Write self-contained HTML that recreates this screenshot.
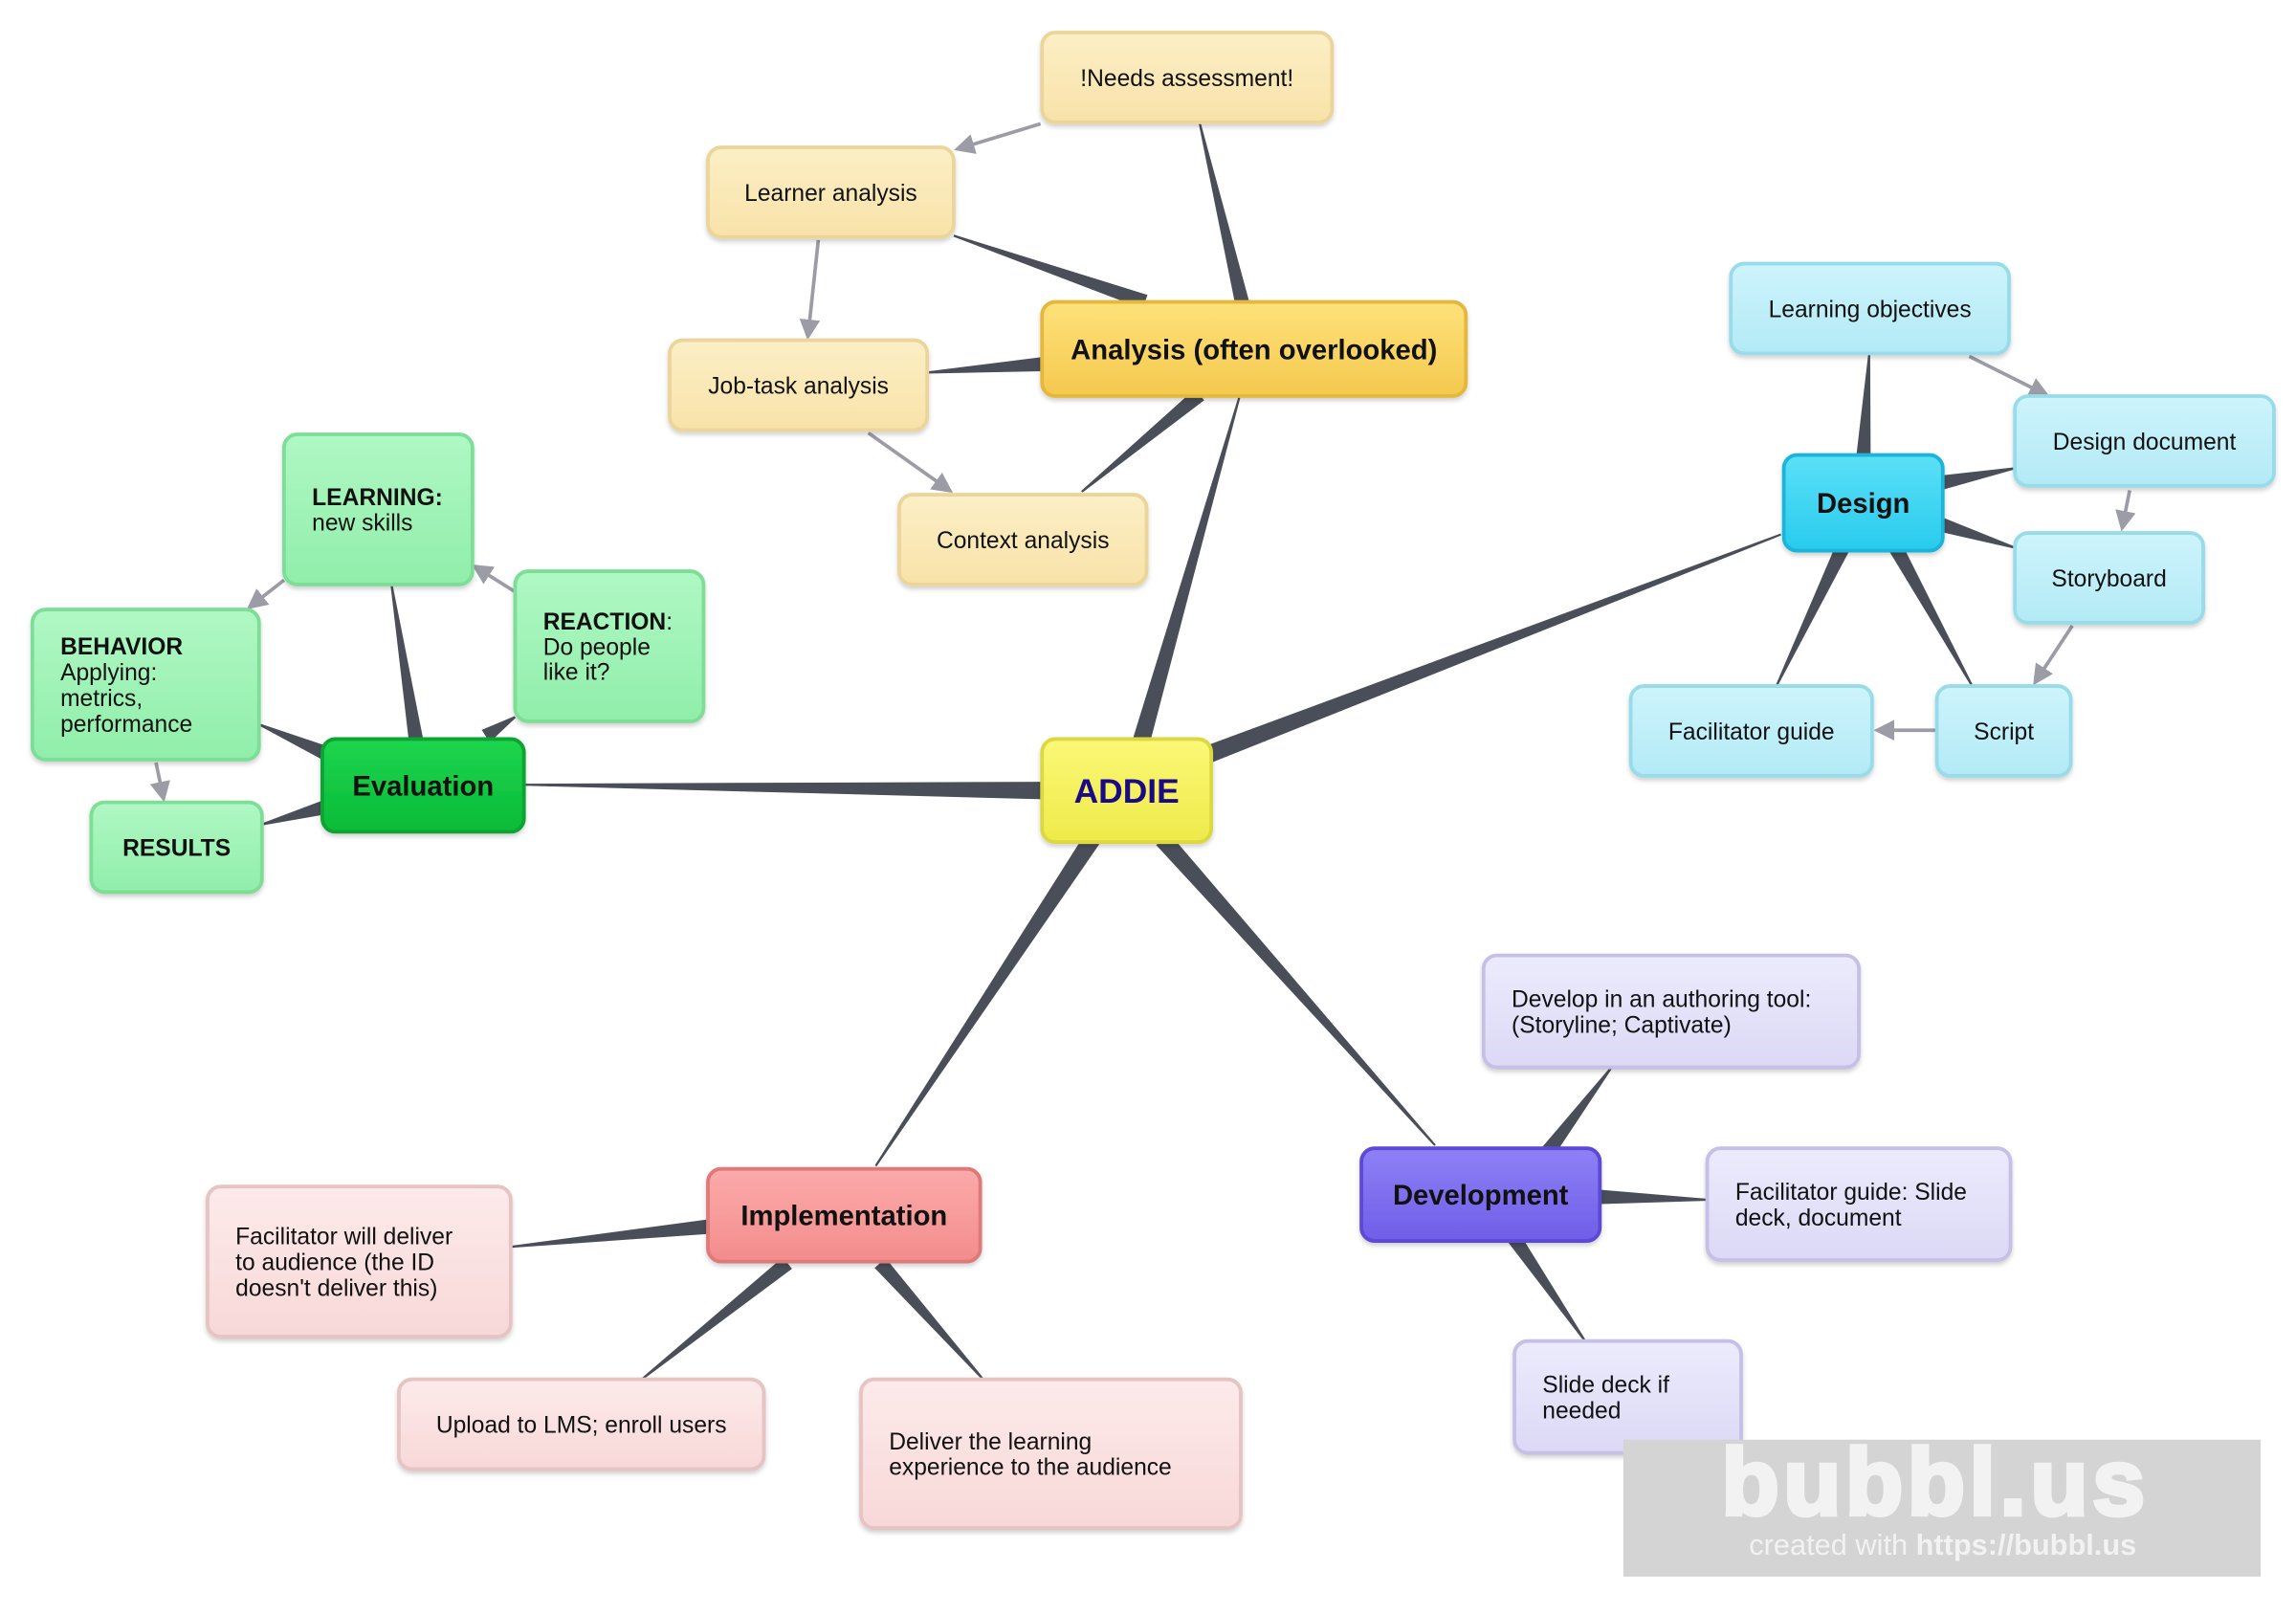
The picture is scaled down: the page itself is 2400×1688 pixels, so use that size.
<!DOCTYPE html>
<html><head><meta charset="utf-8"><style>
html,body{margin:0;padding:0;background:#fff;}
svg{display:block;}
text{font-family:"Liberation Sans",sans-serif;}
</style></head><body>
<svg id="s" width="2400" height="1688" viewBox="0 0 1560 1097" xmlns="http://www.w3.org/2000/svg">
<defs>
<filter id="sh" x="-10%" y="-10%" width="120%" height="130%"><feDropShadow dx="0" dy="2" stdDeviation="1.5" flood-color="#000" flood-opacity="0.18"/></filter>
<marker id="ah" markerWidth="14" markerHeight="14" refX="11" refY="7" orient="auto" markerUnits="userSpaceOnUse" viewBox="0 0 14 14"><path d="M0,0 L14,7 L0,14 z" fill="#9c9ca6"/></marker>
</defs>
<g id="conn" fill="#4a4e58"></g>
<g id="arr" stroke="#9c9ca6" stroke-width="2.4" fill="none"></g>
<g id="nodes"></g>
<rect x="1103" y="978" width="433" height="93" fill="#d4d4d4"/>
<text x="1315" y="1029" text-anchor="middle" font-size="64" font-weight="bold" fill="#f2f2f2" stroke="#f2f2f2" stroke-width="3" style="letter-spacing:3px">bubbl.us</text>
<text x="1320" y="1056" text-anchor="middle" font-size="20" fill="#f2f2f2">created with <tspan font-weight="bold">https://bubbl.us</tspan></text>
</svg>
<script>
var NS="http://www.w3.org/2000/svg";
function el(t,a,p){var e=document.createElementNS(NS,t);for(var k in a)e.setAttribute(k,a[k]);p.appendChild(e);return e;}
var conn=document.getElementById('conn'),arr=document.getElementById('arr'),nodes=document.getElementById('nodes');
function tp(x1,y1,x2,y2,w){var dx=x2-x1,dy=y2-y1,l=Math.hypot(dx,dy),nx=-dy/l,ny=dx/l,w2=0.7;
el('polygon',{points:[x1+nx*w,y1+ny*w,x2+nx*w2,y2+ny*w2,x2-nx*w2,y2-ny*w2,x1-nx*w,y1-ny*w].join(',')},conn);}
[[775,505,842,270,6],[822,512,1210,363,6],[712,537,356,533,6],[742,570,595,792,6],[790,570,975,778,6],
[845,210,815,83,5],[778,205,648,160,5],[712,247,630,253,5],[815,268,735,334,5],
[1266,312,1270,241,5],[1318,328,1369,318,5],[1318,356,1369,372,5],[1288,372,1340,466,5],[1252,372,1207,466,5],
[283,505,266,397,5],[330,500,350,487,5],[222,512,176,492,5],[222,548,178,560,5],
[484,833,347,847,5],[535,858,436,937,5],[598,858,668,937,5],
[1052,782,1095,725,5],[1085,813,1160,815,5],[1028,840,1077,911,5]].forEach(function(c){tp.apply(null,c);});
[[707,84,651,101],[556,163,549,228],[590,294,645,333],[1338,242,1390,268],[1447,333,1442,358],[1408,425,1383,463],[1316,496,1276,496],[350,402,323,385],[193,394,170,412],[106,518,111,542]].forEach(function(a){
el('line',{x1:a[0],y1:a[1],x2:a[2],y2:a[3],'marker-end':'url(#ah)'},arr);});
var C={y:['#fbf877','#eeea4a','#dcd842'],a:['#fde27a','#f5c84e','#e4b83e'],la:['#fcefc6','#f8e2a8','#ecd59a'],
d:['#5ce0f8','#28cbed','#1fb5da'],ld:['#cdf4fc','#b3eaf6','#98dcea'],e:['#1ed54e','#08bb38','#07a430'],le:['#b0f8c4','#90eeaa','#7ede98'],
i:['#fcaaaa','#f38c8c','#df7a7a'],li:['#fdeaea','#f8d8d8','#e6c4c4'],v:['#8e80f6','#6f5ee8','#5b4ad6'],lv:['#ecebfc','#dcd8f6','#c6c0e6']};
var gi=0;
function node(x,y,w,h,c,lines,opt){opt=opt||{};var col=C[c];var id='g'+(gi++);
var defs=document.querySelector('defs');var g=el('linearGradient',{id:id,x1:0,y1:0,x2:0,y2:1},defs);
el('stop',{offset:'0','stop-color':col[0]},g);el('stop',{offset:'1','stop-color':col[1]},g);
el('rect',{x:x,y:y,width:w,height:h,rx:9,fill:'url(#'+id+')',stroke:col[2],'stroke-width':2.5,filter:'url(#sh)'},nodes);
var fs=opt.fs||16,lh=opt.lh||fs*1.05,n=lines.length;
var cx=opt.center?x+w/2:x+19;var y0=y+h/2-(n-1)*lh/2+fs*0.36;
lines.forEach(function(L,i){var t=el('text',{x:cx,y:y0+i*lh,'font-size':fs,fill:opt.color||'#111','text-anchor':opt.center?'middle':'start','font-weight':opt.bold?'bold':'normal'},nodes);
if(Array.isArray(L)){var b=el('tspan',{'font-weight':'bold'},t);b.textContent=L[0];var r=el('tspan',{},t);r.textContent=L[1];}else t.textContent=L;});}
node(708,502,115,70,'y',['ADDIE'],{center:1,bold:1,fs:23,color:'#1a0a86'});
node(708,205,288,64,'a',['Analysis (often overlooked)'],{center:1,bold:1,fs:19});
node(708,22,197,61,'la',['!Needs assessment!'],{center:1});
node(481,100,167,61,'la',['Learner analysis'],{center:1});
node(455,231,175,61,'la',['Job-task analysis'],{center:1});
node(611,336,168,61,'la',['Context analysis'],{center:1});
node(1212,309,108,65,'d',['Design'],{center:1,bold:1,fs:19});
node(1176,179,189,61,'ld',['Learning objectives'],{center:1});
node(1369,269,176,61,'ld',['Design document'],{center:1});
node(1369,362,128,61,'ld',['Storyboard'],{center:1});
node(1316,466,91,61,'ld',['Script'],{center:1});
node(1108,466,164,61,'ld',['Facilitator guide'],{center:1});
node(219,502,137,63,'e',['Evaluation'],{center:1,bold:1,fs:19});
node(193,295,128,102,'le',[['LEARNING:',''],'new skills'],{lh:17,fs:16});
node(350,388,128,102,'le',[['REACTION',':'],'Do people','like it?'],{lh:17});
node(22,414,154,102,'le',[['BEHAVIOR',''],'Applying:','metrics,','performance'],{lh:17.5});
node(62,545,116,61,'le',[['RESULTS','']],{center:1});
node(481,794,185,63,'i',['Implementation'],{center:1,bold:1,fs:19});
node(141,806,206,102,'li',['Facilitator will deliver','to audience (the ID','doesn\'t deliver this)'],{lh:17.5});
node(271,937,248,61,'li',['Upload to LMS; enroll users'],{center:1});
node(585,937,258,101,'li',['Deliver the learning','experience to the audience'],{lh:17.5});
node(925,780,162,63,'v',['Development'],{center:1,bold:1,fs:19});
node(1008,649,255,76,'lv',['Develop in an authoring tool:','(Storyline; Captivate)'],{lh:17.5});
node(1160,780,206,76,'lv',['Facilitator guide: Slide','deck, document'],{lh:17.5});
node(1029,911,154,76,'lv',['Slide deck if','needed'],{lh:17.5});
</script>
</body></html>
